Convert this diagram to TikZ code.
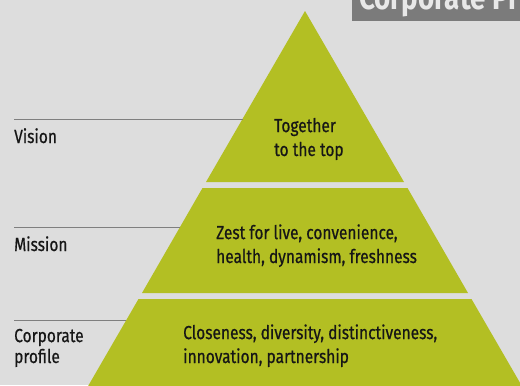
\documentclass[tikz,border=0pt]{standalone}
\usepackage{fontspec}
\setmainfont{Fira Sans}[FakeStretch=0.82, FakeBold=0.6]
\newfontfamily\headfont{Fira Sans Bold}[FakeStretch=0.82]
\definecolor{bggray}{HTML}{DDDDDD}
\definecolor{pyrgreen}{HTML}{B3BF23}
\definecolor{guidegray}{HTML}{7F7F7F}
\definecolor{titlegray}{HTML}{7B7B7B}
\definecolor{titletext}{HTML}{E8E8E8}
\definecolor{labeltext}{HTML}{161616}

\begin{document}
\begin{tikzpicture}[
    x=1bp, y=-1bp,
    level/.style={fill=pyrgreen, draw=none},
    guide/.style={draw=guidegray, line width=1bp},
    tag/.style={anchor=base west, inner sep=0pt, align=left,
                text=labeltext, font=\fontsize{19}{21}\selectfont},
    inside/.style={tag, font=\fontsize{19}{24}\selectfont},
    titlebox/.style={fill=titlegray, draw=none}
  ]
  \clip (0,0) rectangle (520,385);
  \fill[bggray] (0,0) rectangle (520,385);

  % heading bar, cut by the page edge
  \fill[titlebox] (352,-10) rectangle (530,21);
  \node[anchor=base west, inner sep=0pt, text=titletext,
        font=\fontsize{34}{34}\headfont] (title) at (359,9.5)
        {Corporate Principles};

  % the three levels of the pyramid
  \fill[level] (305,11) -- (404,182) -- (206,182) -- cycle;
  \fill[level] (202.5,188) -- (407.5,188) -- (468,293) -- (142,293) -- cycle;
  \fill[level] (138.5,299) -- (471.5,299) -- (530,400) -- (80,400) -- cycle;

  % guide lines from the labels to the pyramid edge
  \coordinate (vis-a) at (14,119);   \coordinate (vis-b) at (242.5,119);
  \coordinate (mis-a) at (14,227);   \coordinate (mis-b) at (180,227);
  \coordinate (cor-a) at (14,320);   \coordinate (cor-b) at (126,320);
  \draw[guide] (vis-a) -- (vis-b);
  \draw[guide] (mis-a) -- (mis-b);
  \draw[guide] (cor-a) -- (cor-b);

  % labels sit on the baseline of their last line
  \node[tag] (vision)  at (14,143) {Vision};
  \node[tag] (mission) at (14,251) {Mission};
  \node[tag] (corp)    at (14,363) {Corporate\\profile};

  \node[inside] (top) at (274,156) {Together\\to the top};
  \node[inside] (mid) at (216,263) {Zest for live, convenience,\\health, dynamism, freshness};
  \node[inside] (bot) at (183,363) {Closeness, diversity, distinctiveness,\\innovation, partnership};
\end{tikzpicture}
\end{document}
